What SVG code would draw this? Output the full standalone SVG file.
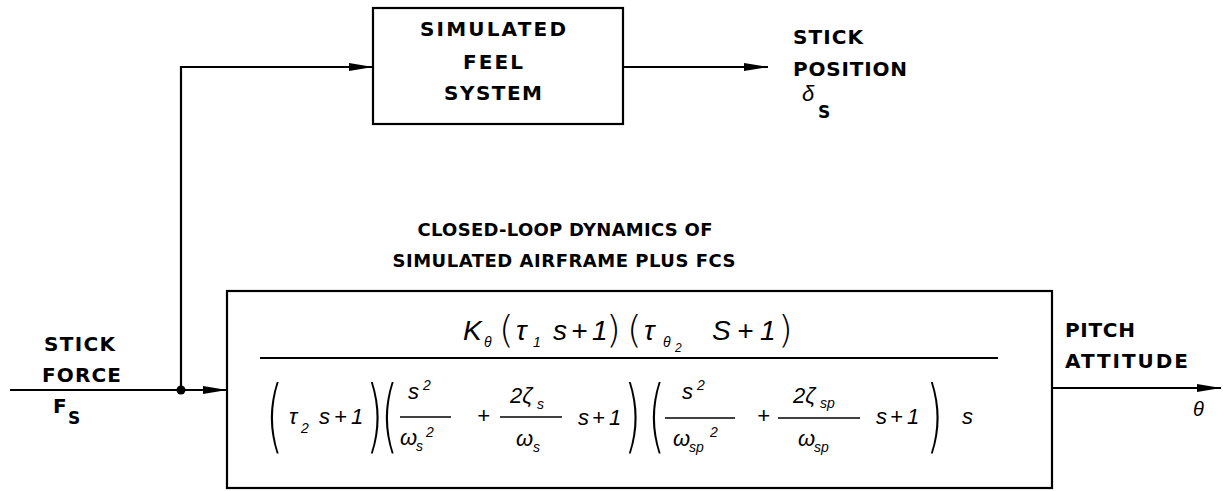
<svg xmlns="http://www.w3.org/2000/svg" width="1223" height="491" viewBox="0 0 1223 491">
<style>
.box{fill:#fff;stroke:#000;stroke-width:2.2}
.ln{fill:none;stroke:#000;stroke-width:2.2}
.lbl{font-family:"DejaVu Sans","Liberation Sans",sans-serif;font-weight:bold;font-size:20px;fill:#000}
.cap{font-family:"DejaVu Sans","Liberation Sans",sans-serif;font-weight:bold;font-size:18px;fill:#000}
.m{font-family:"Liberation Sans",Arial,sans-serif;font-style:italic;fill:#000}
.n{font-size:28px}
.d{font-size:22px}
.s{font-size:14px}
.bp{font-family:"DejaVu Sans","Liberation Sans",sans-serif;font-weight:200;font-size:80px;fill:#000}
.np{font-family:"DejaVu Sans","Liberation Sans",sans-serif;font-weight:200;font-size:38px;fill:#000}
.fl{stroke:#000;stroke-width:1.6}
</style>
<defs>
<marker id="arr" viewBox="0 0 24 10" refX="24" refY="5" markerWidth="24" markerHeight="10" markerUnits="userSpaceOnUse" orient="auto">
<path d="M0,1 L24,5 L0,9 z" fill="#000"/>
</marker>
</defs>
<rect width="1223" height="491" fill="#fff"/>

<g id="connectors">
<path class="ln" d="M181,390 V67 H373" marker-end="url(#arr)"/>
<path class="ln" d="M623,67 H768" marker-end="url(#arr)"/>
<path class="ln" d="M10,390 H227" marker-end="url(#arr)"/>
<path class="ln" d="M1052,388 H1221" marker-end="url(#arr)"/>
<circle cx="181" cy="390" r="4.5" fill="#000"/>
</g>

<g id="feel-system">
<rect class="box" x="373" y="8" width="250" height="116"/>
<text class="lbl" x="493" y="36" text-anchor="middle" textLength="146">SIMULATED</text>
<text class="lbl" x="493" y="69" text-anchor="middle" textLength="60">FEEL</text>
<text class="lbl" x="493" y="100" text-anchor="middle" textLength="98">SYSTEM</text>
</g>

<g id="stick-position">
<text class="lbl" x="793" y="44" textLength="70">STICK</text>
<text class="lbl" x="793" y="76" textLength="114">POSITION</text>
<text class="m d" x="802" y="101">δ</text>
<text class="lbl" x="818" y="118" style="font-size:17px">S</text>
</g>

<g id="stick-force">
<text class="lbl" x="44" y="351" textLength="71">STICK</text>
<text class="lbl" x="42" y="382" textLength="79">FORCE</text>
<text class="lbl" x="53" y="413">F</text>
<text class="lbl" x="68" y="424" style="font-size:17px">S</text>
</g>

<g id="closed-loop-title">
<text class="cap" x="565" y="236" text-anchor="middle" textLength="295">CLOSED-LOOP DYNAMICS OF</text>
<text class="cap" x="564" y="267" text-anchor="middle" textLength="343">SIMULATED AIRFRAME PLUS FCS</text>
</g>

<g id="dynamics">
<rect class="box" x="227" y="291" width="825" height="197"/>
<line class="fl" x1="260" y1="358" x2="998" y2="358" style="stroke-width:2"/>
<!-- numerator -->
<text class="m n" x="463" y="340">K</text>
<text class="m s" x="484" y="347">θ</text>
<text class="np" x="499" y="342">(</text>
<text class="m n" x="516" y="340">τ</text>
<text class="m s" x="533" y="347">1</text>
<text class="m n" x="553" y="340">s</text>
<text class="m n" x="571" y="340">+</text>
<text class="m n" x="592" y="340">1</text>
<text class="np" x="606" y="342">)</text>
<text class="np" x="627" y="342">(</text>
<text class="m n" x="644" y="340">τ</text>
<text class="m s" x="663" y="347">θ</text>
<text class="m" x="675" y="352" style="font-size:12px">2</text>
<text class="m n" x="712" y="340">S</text>
<text class="m n" x="737" y="340">+</text>
<text class="m n" x="760" y="340">1</text>
<text class="np" x="778" y="342">)</text>
<!-- denominator -->
<text class="bp" transform="translate(266,443) scale(0.55,1)">(</text>
<text class="m d" x="289" y="424">τ</text>
<text class="m s" x="301" y="433">2</text>
<text class="m d" x="319" y="424">s</text>
<text class="m d" x="334" y="424">+</text>
<text class="m d" x="351" y="424">1</text>
<text class="bp" transform="translate(366,443) scale(0.55,1)">)</text>
<text class="bp" transform="translate(381,443) scale(0.55,1)">(</text>

<text class="m d" x="408" y="399">s</text>
<text class="m s" x="423" y="390">2</text>
<line class="fl" x1="400" y1="417" x2="451" y2="417"/>
<text class="m d" x="400" y="445">ω</text>
<text class="m s" x="416" y="451">s</text>
<text class="m s" x="426" y="437">2</text>
<text class="m d" x="477" y="423">+</text>
<text class="m d" x="510" y="403">2ζ</text>
<text class="m s" x="537" y="409">s</text>
<line class="fl" x1="500" y1="417" x2="562" y2="417"/>
<text class="m d" x="516" y="446">ω</text>
<text class="m s" x="533" y="452">s</text>
<text class="m d" x="578" y="425">s</text>
<text class="m d" x="592" y="425">+</text>
<text class="m d" x="609" y="425">1</text>
<text class="bp" transform="translate(624,443) scale(0.55,1)">)</text>
<text class="bp" transform="translate(648,443) scale(0.55,1)">(</text>

<text class="m d" x="682" y="399">s</text>
<text class="m s" x="697" y="390">2</text>
<line class="fl" x1="665" y1="418" x2="735" y2="418"/>
<text class="m d" x="673" y="446">ω</text>
<text class="m s" x="689" y="452">sp</text>
<text class="m s" x="710" y="437">2</text>
<text class="m d" x="757" y="423">+</text>
<text class="m d" x="793" y="403">2ζ</text>
<text class="m s" x="820" y="408">sp</text>
<line class="fl" x1="778" y1="418" x2="860" y2="418"/>
<text class="m d" x="798" y="446">ω</text>
<text class="m s" x="814" y="452">sp</text>
<text class="m d" x="876" y="424">s</text>
<text class="m d" x="890" y="424">+</text>
<text class="m d" x="907" y="424">1</text>
<text class="bp" transform="translate(926,443) scale(0.55,1)">)</text>
<text class="m d" x="962" y="424">s</text>
</g>

<g id="pitch-attitude">
<text class="lbl" x="1065" y="337" textLength="70">PITCH</text>
<text class="lbl" x="1065" y="368" textLength="123">ATTITUDE</text>
<text class="m" x="1193" y="416" style="font-size:20px">θ</text>
</g>
</svg>
